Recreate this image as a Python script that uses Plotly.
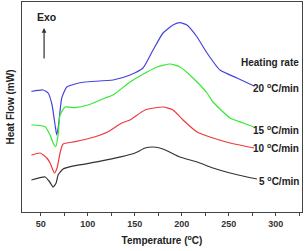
import plotly.graph_objects as go

# Temperature (°C) and heat-flow (arbitrary, offset) per heating rate
t20 = [40, 52.4, 57.8, 62.0, 65.2, 67.0, 68.9, 72.3, 77.7, 86.5, 97.1, 126.9, 145.0, 158.8,
       169.5, 180.1, 190.7, 198.2, 205.6, 216.3, 226.9, 240.7, 258.8, 276.9]
h20 = [120.5, 122, 119, 107, 87, 77, 87, 114, 125, 128, 130, 132, 137, 144,
       162, 179, 187, 189.3, 187, 175, 159, 142, 134, 126]

t15 = [40, 54.6, 59.9, 63.1, 66.0, 68.4, 70.5, 75.8, 86.5, 100.3, 118.4, 126.9, 145.0, 163.1,
       173.7, 187.6, 198.2, 212.0, 226.9, 233.3, 251.4, 265.2, 276.9]
h15 = [87, 85.3, 77, 69, 65.3, 77, 97, 105, 104.3, 107, 114, 117, 130, 140,
       145, 148, 145, 134, 119, 110, 94, 89, 85]

t10 = [40, 49.3, 56.4, 59.9, 64.5, 67.3, 70.5, 73.7, 86.5, 107.8, 121.6, 136.2, 145.0, 161.0,
       180.1, 190.7, 201.4, 216.3, 233.3, 251.4, 271.6, 276.9]
h10 = [57, 59, 54, 49, 39, 44, 59, 68, 70.3, 75.3, 80.3, 89, 92, 102,
       105, 102, 92, 80, 74, 69, 65, 64]

t5 = [40, 54.6, 58.8, 63.1, 66.3, 68.4, 73.7, 86.5, 111.0, 136.2, 150.3, 161.0, 169.5, 180.1,
      198.2, 216.3, 233.3, 251.4, 269.5, 280.1]
h5 = [32, 35, 31, 25, 29, 37, 43, 46.3, 50.3, 55.3, 59, 64, 65, 63,
      55, 50, 44, 39, 35, 33]

series = [
    ("20", t20, h20, "#4545dd"),
    ("15", t15, h15, "#33e833"),
    ("10", t10, h10, "#ee3a3a"),
    ("5", t5, h5, "#333333"),
]
label_y = {"20": 124, "15": 82, "10": 64, "5": 31}

tick_vals = [50, 100, 150, 200, 250, 300]

fig = go.Figure()
for name, t, h, c in series:
    fig.add_trace(go.Scatter(x=t, y=h, mode="lines", line=dict(color=c, width=1.2, shape="spline", smoothing=0.5),
                             showlegend=False, hoverinfo="skip"))

txtfont = dict(family="Liberation Sans, Arial", size=10, color="#222222", weight="bold")
for name, _, _, _ in series:
    fig.add_annotation(x=327, y=label_y[name], xref="x", yref="y", text=f"{name} <sup>o</sup>C/min",
                       showarrow=False, xanchor="right", yanchor="middle", font=txtfont)
fig.add_annotation(x=327, y=150, xref="x", yref="y", text="Heating rate", showarrow=False,
                   xanchor="right", yanchor="middle", font=txtfont)
fig.add_annotation(x=56, y=195, xref="x", yref="y", text="Exo", showarrow=False,
                   xanchor="center", yanchor="middle",
                   font=dict(family="Liberation Sans, Arial", size=10.5, color="#222222", weight="bold"))
fig.add_annotation(x=53.5, y=184, ax=53.5, ay=152, xref="x", yref="y", axref="x", ayref="y",
                   text="", showarrow=True, arrowhead=2, arrowsize=0.8, arrowwidth=1.2, arrowcolor="#333333")

fig.update_layout(
    width=308, height=251,
    margin=dict(l=22, r=6, t=2, b=39),
    plot_bgcolor="white", paper_bgcolor="white",
    font=dict(family="Liberation Sans, Arial", size=9, color="#333333"),
)
fig.update_xaxes(range=[30, 328], tickvals=tick_vals, ticks="outside", ticklen=3, tickwidth=1,
                 tickcolor="#444444", showline=True, linecolor="#444444", linewidth=1, mirror=True,
                 showgrid=False, zeroline=False,
                 minor=dict(dtick=25, tick0=0, ticks="outside", ticklen=3, tickcolor="#444444", showgrid=False),
                 tickfont=dict(size=9, color="#333333", weight="bold"),
                 title=dict(text="Temperature (<sup>o</sup>C)", standoff=9,
                            font=dict(size=10, color="#222222", weight="bold")))
fig.update_yaxes(range=[0, 210], showticklabels=False, ticks="", showline=True, linecolor="#444444",
                 linewidth=1, mirror=True, showgrid=False, zeroline=False,
                 title=dict(text="Heat Flow (mW)", standoff=4,
                            font=dict(size=10, color="#222222", weight="bold")))

fig.write_html("out.html")
